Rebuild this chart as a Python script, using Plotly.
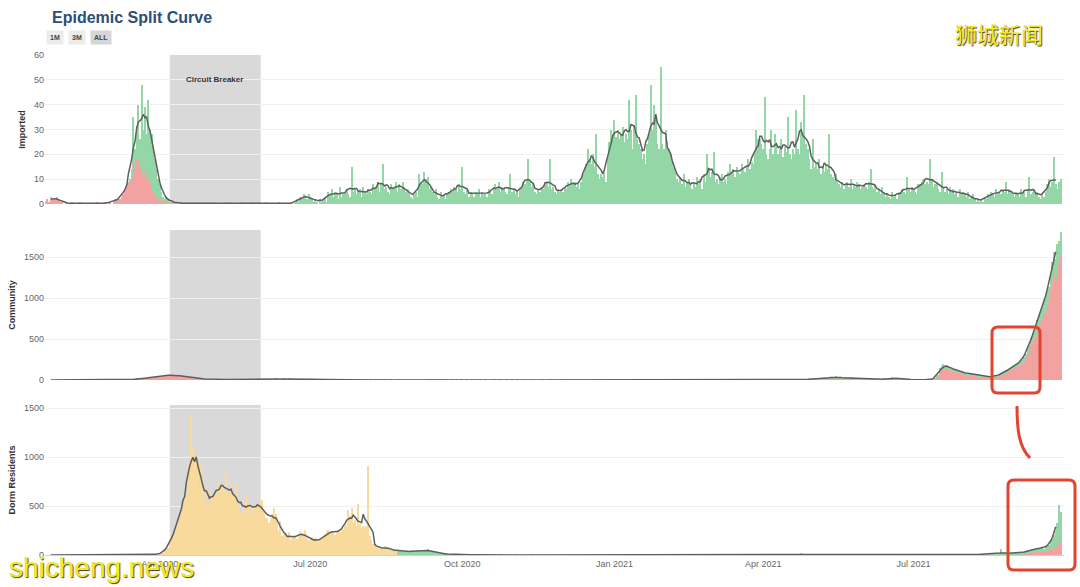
import pandas as pd
import plotly.graph_objects as go
from plotly.subplots import make_subplots

# ---------------- data (daily cases) ----------------
START, END = "2020-01-23", "2021-09-28"

# Imported - red part (2020-01-23 .. 2020-04-10)
IMP_RED = [1,2,1,3,2,2,2,3,2,
           1,1,0,1,0,0,0, 1,0,0,0,0,1,0, 0,0,0,0,0,0,0, 0,1,0,0,0,0,1, 0,
           1,1,0,1,2,2,2, 2,3,4,5,7,8,9, 11,16,14,18,18,15,17, 12,13,10,11,8,7,5, 4,3,2,
           2,2,1,1,1,0,0, 0,1,0]

# Imported - green part (2020-03-01 .. 2021-09-28)
IMP_GREEN = [
    0,0,0,0,0,0,0, 0,0,0,1,1,1,1, 3,19,8,12,22,11,31, 18,26,18,31,22,21,17, 14,11,8,
    6,3,2,1,2,2,1, 1,0,0,1,0,0,1, 0,0,1,0,0,0,0, 1,0,0,0,0,1,0, 0,0,
    0,0,1,0,0,0,0, 0,0,0,1,0,0,0, 0,0,0,0,0,1,0, 0,0,0,0,0,1,0, 0,0,1,
    0,0,0,1,0,0,0, 0,0,0,0,1,0,0, 0,0,0,0,0,1,0, 1,2,1,3,2,4,3, 2,4,
    3,2,1,2,1,0,2, 1,2,3,1,5,4,6, 3,5,4,2,7,3,4, 5,6,4,3,15,5,6, 4,5,6,
    3,7,5,4,6,5,4, 8,6,7,9,5,8,16, 6,7,5,4,8,6,7, 9,5,8,6,9,7,5, 6,4,3,
    2,4,5,3,12,9,8, 13,10,11,6,7,5,4, 6,3,2,5,3,4,2, 4,5,6,5,7,6,5, 8,6,
    15,5,4,6,3,5,4, 3,5,4,6,3,5,4, 4,3,6,5,4,7,8, 6,9,5,7,6,5,4, 7,12,5,
    6,4,5,3,6,7,9, 8,10,18,9,7,8,5, 4,6,5,7,6,8,9, 7,18,6,7,5,4,6, 5,6,
    5,7,6,9,8,10,8, 9,7,8,6,9,12,15, 16,22,18,16,20,15,28, 12,10,12,11,13,9,18, 25,30,28,
    34,27,30,26,28,31,25, 28,26,42,30,22,32,44, 26,24,22,18,20,16,24, 28,48,30,40,34,24,22, 55,24,22,
    30,25,22,20,17,15,13, 10,9,11,8,12,7,9, 10,8,6,9,7,11,8, 10,6,12,9,20,14,11,
    13,21,9,10,8,11,12, 9,10,8,13,16,12,14, 11,15,13,12,16,14,13, 15,18,14,17,16,20,30, 26,26,24,
    22,43,20,18,22,30,20, 28,24,20,22,26,19,23, 21,35,20,18,22,20,38, 22,20,33,28,44,24,22, 18,14,
    26,15,16,14,18,12,15, 13,16,14,28,12,11,10, 12,9,8,7,9,6,8, 9,7,10,6,8,7,9, 8,6,7,
    8,7,6,9,14,7,6, 8,5,6,4,7,5,3, 4,3,2,5,3,4,2, 5,4,6,5,4,11,6, 5,7,
    6,5,4,8,8,9,10, 8,9,8,18,10,7,8, 9,6,5,13,7,5,6, 4,7,5,6,4,5,3, 6,4,5,
    4,3,5,2,3,4,2, 1,2,1,2,1,3,2, 4,3,5,4,3,6,4, 5,4,6,5,9,4,6, 5,4,3,
    5,4,3,6,4,5,3, 6,11,4,5,6,4,5, 3,2,4,3,5,8,10, 7,9,19,8,6,9,10]

# Community - red part (2020-01-23 .. 2021-09-28)
COMM_RED = [
    0,0,0,0,0,0,0,0,0,
    0,0,0,2,4,1,3, 2,1,1,0,3,1,3, 5,3,0,2,2,0,4, 1,1,0,1,2,2,3, 2,
    1,2,4,2,3,5,4, 3,5,6,5,6,4,6, 5,9,12,14,12,16,13, 18,22,25,28,30,34,38, 40,44,42,
    48,46,52,55,60,58,62, 64,55,60,58,52,48,50, 46,42,38,40,32,28,30, 26,24,20,18,16,15,14, 12,11,
    10,9,12,8,9,10,7, 8,6,9,7,5,8,6, 7,5,6,4,5,6,4, 5,4,3,5,4,3,4, 5,4,6,
    4,5,6,8,7,9,10, 12,9,13,11,8,10,12, 14,11,9,13,15,12,10, 8,11,9,7,10,8,6, 9,7,
    8,10,12,9,11,7,9, 6,8,5,7,6,4,5, 3,4,2,5,3,2,4, 3,2,3,1,2,1,2, 0,2,1,
    1,0,2,1,0,1,2, 0,1,2,1,0,3,1, 2,1,0,1,2,0,1, 1,0,2,1,0,1,0, 2,1,0,
    1,0,2,0,1,0,1, 2,0,1,3,1,0,2, 1,0,1,0,2,1,0, 1,0,2,0,1,0,1, 0,2,
    1,0,0,1,0,0,2, 0,1,0,0,1,0,0, 1,0,0,0,2,0,1, 0,0,1,0,0,0,1, 0,0,1,
    0,0,1,0,0,0,0, 1,0,0,0,0,1,0, 0,0,0,2,0,0,0, 0,1,0,0,0,0,0, 1,0,
    0,0,0,0,0,1,0, 0,0,0,0,0,0,0, 0,0,0,0,0,0,1, 0,0,0,0,0,0,0, 0,0,0,
    0,0,0,0,0,0,1, 0,0,0,0,0,1,0, 2,1,0,2,1,3,2, 0,1,2,4,1,2,1, 0,2,1,
    1,0,0,1,0,0,0, 0,0,0,0,0,0,0, 0,0,0,0,0,0,0, 0,0,0,1,0,0,0,
    0,0,0,0,0,0,0, 0,0,1,0,0,0,0, 0,0,0,1,0,0,0, 0,0,0,0,0,0,0, 0,0,0,
    0,0,0,1,0,0,0, 0,0,0,0,0,0,0, 0,0,0,0,0,4,2, 3,5,2,8,3,6,10, 12,15,
    6,11,8,9,11,8,12, 14,17,20,23,19,27,22, 29,23,26,20,17,23,22, 17,18,14,19,15,12,11, 14,9,8,
    10,9,7,5,10,9,8, 3,5,6,5,8,11,9, 7,11,17,21,16,17,11, 14,13,16,13,10,6,8, 5,6,
    3,2,2,3,2,3,4, 2,3,2,3,4,7,10, 33,45,120,125,140,135,140, 127,123,110,102,93,99,86, 88,76,74,
    70,64,65,60,63,56,54, 48,45,42,39,40,37,34, 31,33,28,31,35,42,48, 54,60,70,79,92,100,113, 125,134,147,
    150,171,175,200,205,237,265, 325,358,425,458,510,530,610, 660,710,740,810,825,900,950,
    1095,1200,1300,1235,1385,1410,1510]

# Community - green part (2021-05-01 .. 2021-09-28)
COMM_GREEN = [
    2,3,2,3,3,2,4, 4,5,6,7,5,8,6, 9,7,8,6,5,7,6, 5,6,4,6,5,4,3, 4,3,2,
    3,2,2,1,3,3,2, 1,2,2,1,2,3,2, 2,3,5,6,4,5,3, 4,3,4,3,2,2,2, 1,2,
    1,1,0,2,1,1,2, 1,1,1,1,2,3,4, 12,15,30,45,50,40,42, 38,35,30,28,25,26,22, 24,20,18,
    18,16,17,15,16,14,12, 12,10,10,9,10,9,8, 7,8,7,8,9,10,10, 12,12,14,16,18,20,22, 25,26,28,
    30,34,35,40,40,48,55, 65,72,85,92,100,110,120, 130,140,150,160,165,180,190,
    215,240,260,245,275,280,300]

# Dorm residents - yellow part (2020-03-25 .. 2020-08-22)
DORM_YELLOW = [
    0,1,2,3,4,8,12,
    15,20,18,40,80,75,120, 170,220,260,280,350,420,460, 500,650,620,940,590,1426,1100,
    1010,1030,890,620,930,790,520, 690,520,
    510,640,580,600,620,700,740, 720,680,640,860,630,560,700, 640,600,720,540,500,440,420,
    530,610,460,540,420,500,480, 510,520,480,
    540,560,450,380,380,330,370, 420,480,420,380,250,350,190, 200,210,180,230,150,170,200,
    190,160,210,240,220,190,260, 180,140,
    160,180,150,170,140,130,160, 150,170,210,250,260,230,240, 220,200,250,260,230,280,260,
    310,300,460,400,480,330,360, 300,520,320,
    280,300,290,300,908,190,150, 110,100,80,70,60,80,70, 90,75,80,60,55,50,45, 40]

# Dorm residents - green part (2020-08-23 .. 2021-09-28)
DORM_GREEN = [
    50,45,55,40,38,42,35,30,36,
    40,35,42,50,38,45,40, 48,52,60,45,38,30,28, 25,20,18,15,12,10,14, 8,10,6,8,5,4,3, 6,4,
    3,2,4,2,1,3,2, 1,2,1,0,1,2,0, 1,0,1,0,0,1,0, 0,0,1,0,0,0,0, 1,0,0,
    0,0,1,0,0,0,0, 0,0,0,0,1,0,0, 0,0,0,0,0,0,0, 0,0,0,0,0,0,0, 0,0,
    0,0,0,0,0,0,0, 0,0,0,0,0,0,0, 0,0,0,0,0,1,0, 0,0,0,0,0,0,0, 0,0,0,
    0,0,0,0,0,0,0, 0,0,0,0,0,0,0, 0,0,0,0,0,0,0, 0,0,0,0,0,1,0, 0,0,0,
    0,0,0,0,0,0,0, 0,0,0,0,0,0,0, 0,0,0,0,0,0,0, 0,0,0,0,0,0,0,
    0,0,0,0,0,0,0, 0,0,0,0,0,0,0, 0,0,0,1,0,0,0, 0,0,0,0,0,0,0, 0,0,0,
    0,0,0,0,0,0,0, 0,0,0,0,0,0,0, 0,0,0,0,0,0,4, 8,6,12,3,5,2,1, 0,0,
    0,1,0,0,0,0,0, 0,0,0,1,0,0,0, 0,0,0,0,0,0,0, 0,0,0,0,0,0,0, 0,0,0,
    0,0,0,0,0,0,0, 0,0,0,0,0,0,0, 0,0,0,0,0,0,0, 0,0,0,0,0,0,0, 0,0,
    0,0,0,0,0,0,0, 0,0,0,0,0,0,0, 0,0,1,0,2,1,0, 1,0,2,1,3,2,1, 2,3,2,
    2,3,5,4,6,8,5, 7,9,6,8,10,7,9, 11,8,10,12,9,11,10, 13,61,16,18,20,17,22, 19,21,18,
    15,14,16,17,16,18,16, 22,28,30,32,28,38,35, 37,38,38,34,44,53,52,
    75,95,125,165,230,390,310]

# Dorm residents - red part (2021-09-01 .. 2021-09-28)
DORM_RED = [5,4,6,8,8,12,12, 18,20,25,28,24,32,30, 35,30,32,28,36,42,48,
            55,65,75,85,100,120,130]

PANELS = ["Imported", "Community", "Dorm Residents"]
RANGE_BUTTONS = ["1M", "3M", "ALL"]
CB_START, CB_END = "2020-04-07", "2020-06-01"

# ---------------- helpers ----------------
dates = pd.date_range(START, END, freq="D")


def place(start, end, values):
    idx = pd.date_range(start, end, freq="D")
    assert len(idx) == len(values), (start, end, len(idx), len(values))
    s = pd.Series(0.0, index=dates)
    s.loc[idx] = values
    return s


imp_red = place("2020-01-23", "2020-04-10", IMP_RED)
imp_green = place("2020-03-01", "2021-09-28", IMP_GREEN)
comm_red = place("2020-01-23", "2021-09-28", COMM_RED)
comm_green = place("2021-05-01", "2021-09-28", COMM_GREEN)
dorm_yellow = place("2020-03-25", "2020-08-22", DORM_YELLOW)
dorm_green = place("2020-08-23", "2021-09-28", DORM_GREEN)
dorm_red = place("2021-09-01", "2021-09-28", DORM_RED)

RED, GREEN, YELLOW = "#f3a2a2", "#94d7a6", "#f7da9c"
LINE = "#5e5e5e"

fig = make_subplots(rows=3, cols=1, shared_xaxes=True)

panel_series = [
    [(imp_red, RED), (imp_green, GREEN)],
    [(comm_red, RED), (comm_green, GREEN)],
    [(dorm_yellow, YELLOW), (dorm_red, RED), (dorm_green, GREEN)],
]

for r, parts in enumerate(panel_series, start=1):
    total = sum(s for s, _ in parts)
    for s, c in parts:
        fig.add_trace(go.Bar(x=dates, y=s.values, marker=dict(color=c, line=dict(width=0)),
                             hoverinfo="skip"), row=r, col=1)
    ma = total.rolling(7, center=True).mean()
    fig.add_trace(go.Scatter(x=dates, y=ma.values, mode="lines",
                             line=dict(color=LINE, width=1.5), hoverinfo="skip"),
                  row=r, col=1)

# ---------------- layout ----------------
L, T, W, H = 45, 55, 1019, 500


def px(x):
    return (x - L) / W


def py(y):
    return (T + H - y) / H


domains = [[py(204), 1.0], [py(380), py(230)], [0.0, py(405)]]
yranges = [[0, 60], [0, 1830], [0, 1531]]
ydticks = [10, 500, 500]

FONT = "Liberation Sans, Arial, sans-serif"
axis_font = dict(family=FONT, size=9, color="#666")
for i in range(3):
    fig.update_yaxes(row=i + 1, col=1, domain=domains[i], range=yranges[i], dtick=ydticks[i],
                     showgrid=True, gridcolor="#f0f0f0", gridwidth=1, zeroline=False,
                     tickfont=axis_font, ticks="", showline=False, fixedrange=True,
                     automargin=False,
                     title=dict(text=PANELS[i], standoff=6,
                                font=dict(family=FONT, size=9, color="#333", weight="bold")))

fig.update_xaxes(range=["2020-01-22 12:00", "2021-09-30"], showgrid=False, zeroline=False,
                 ticks="", tickfont=axis_font, tickformat="%b %Y", dtick="M3",
                 tick0="2020-01-01", automargin=False)
fig.update_xaxes(row=3, col=1, showline=True, linecolor="#d0d0d0", linewidth=1,
                 showticklabels=True)

shapes = []
for ax in ["y", "y2", "y3"]:
    xa = "x" if ax == "y" else "x" + ax[1:]
    shapes.append(dict(type="rect", xref=xa, yref=ax + " domain", x0=CB_START, x1=CB_END,
                       y0=0, y1=1, fillcolor="#d9d9d9", line=dict(width=0), layer="below"))


def rounded(x0, y0, x1, y1, r=6):
    rx, ry = r / W, r / H
    X0, X1, Y0, Y1 = px(x0), px(x1), py(y1), py(y0)
    return (f"M {X0+rx},{Y0} L {X1-rx},{Y0} Q {X1},{Y0} {X1},{Y0+ry} "
            f"L {X1},{Y1-ry} Q {X1},{Y1} {X1-rx},{Y1} L {X0+rx},{Y1} "
            f"Q {X0},{Y1} {X0},{Y1-ry} L {X0},{Y0+ry} Q {X0},{Y0} {X0+rx},{Y0} Z")


RED_MARK = "#e2442f"
shapes.append(dict(type="path", xref="paper", yref="paper", path=rounded(992, 327, 1040, 393),
                   line=dict(color=RED_MARK, width=3), layer="above"))
shapes.append(dict(type="path", xref="paper", yref="paper", path=rounded(1008, 480, 1075, 570),
                   line=dict(color=RED_MARK, width=3), layer="above"))
shapes.append(dict(type="path", xref="paper", yref="paper",
                   path=(f"M {px(1017)},{py(406)} C {px(1017)},{py(430)} "
                         f"{px(1019)},{py(447)} {px(1030)},{py(458)}"),
                   line=dict(color=RED_MARK, width=3), layer="above"))

annotations = [
    dict(text="Epidemic Split Curve", xref="paper", yref="paper", x=px(50), y=py(18),
         xanchor="left", yanchor="middle", showarrow=False,
         font=dict(family=FONT, size=16, color="#2b4f76", weight="bold")),
    dict(text="Circuit Breaker", xref="x", yref="y", x="2020-05-04", y=50, showarrow=False,
         font=dict(family=FONT, size=8, color="#333", weight="bold")),
    dict(text="狮城新闻", xref="paper", yref="paper", x=px(999), y=py(33),
         xanchor="center", yanchor="middle", showarrow=False,
         font=dict(family="Noto Sans CJK SC", size=22, color="#f4ea1c",
                   shadow="1px 1px 1px #3a3a3a")),
    dict(text="shicheng.news", xref="paper", yref="paper", x=px(101), y=py(567),
         xanchor="center", yanchor="middle", showarrow=False,
         font=dict(family=FONT, size=28, color="#f4ea1c",
                   shadow="1px 1px 1px #3a3a3a")),
]

# range buttons drawn as small boxed labels (like the reference)
btn_x = [46, 68, 90]
for lbl, bx in zip(RANGE_BUTTONS, btn_x):
    annotations.append(dict(text=lbl, xref="paper", yref="paper", x=px(bx), y=py(38),
                            xanchor="left", yanchor="middle", showarrow=False,
                            bgcolor="#d6d6d6" if lbl == "ALL" else "#ececec",
                            borderpad=3,
                            font=dict(family=FONT, size=7, color="#444", weight="bold")))

fig.update_layout(
    width=1080, height=587,
    margin=dict(l=L, r=1080 - L - W, t=T, b=587 - T - H),
    barmode="stack", bargap=0.3,
    showlegend=False,
    plot_bgcolor="white", paper_bgcolor="white",
    shapes=shapes, annotations=annotations,
    hovermode=False,
)

fig.write_html("out.html", config={"displayModeBar": False},
               post_script="document.body.style.margin='0';")
